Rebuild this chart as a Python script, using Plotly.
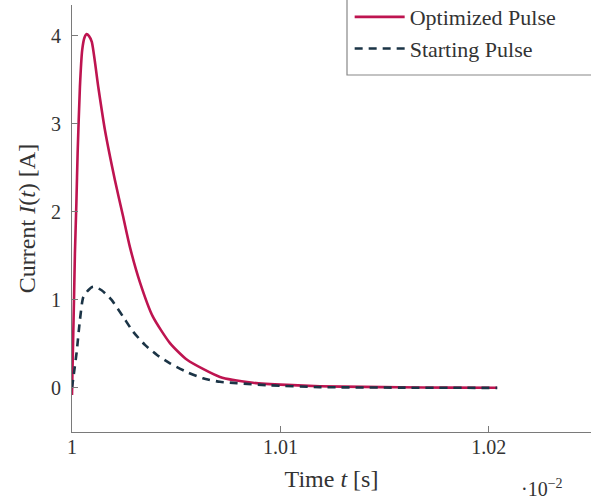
import plotly.graph_objects as go

# Time in units of 1e-2 s (as labelled on the axis)
opt_t = [1.00000, 1.00005, 1.00010, 1.00014, 1.00021, 1.00027, 1.00038, 1.00049,
         1.00060, 1.00070, 1.00081, 1.00095, 1.00126, 1.00158, 1.00206, 1.00245,
         1.00278, 1.00326, 1.00388, 1.00470, 1.00552, 1.00710, 1.00868, 1.01031,
         1.01189, 1.01400, 1.01573, 1.01800, 1.02040]
opt_I = [-0.08, 0.50, 1.05, 1.53, 2.10, 2.67, 3.42, 3.84,
         3.98, 4.02, 4.00, 3.93, 3.42, 2.93, 2.36, 1.95,
         1.60, 1.20, 0.81, 0.51, 0.32, 0.125, 0.06, 0.035,
         0.02, 0.012, 0.008, 0.004, 0.002]

start_t = [1.00000, 1.00010, 1.00022, 1.00038, 1.00054, 1.00078, 1.00101, 1.00142,
           1.00190, 1.00245, 1.00293, 1.00350, 1.00408, 1.00470, 1.00552, 1.00628,
           1.00710, 1.00791, 1.00950, 1.01189, 1.01573, 1.02040]
start_I = [0.0, 0.18, 0.40, 0.77, 1.03, 1.11, 1.15, 1.11,
           1.00, 0.81, 0.64, 0.49, 0.375, 0.28, 0.18, 0.11,
           0.07, 0.055, 0.03, 0.01, 0.004, 0.001]

x_ticks = [1.0, 1.01, 1.02]
x_ticktext = ["1", "1.01", "1.02"]
y_ticks = [0, 1, 2, 3, 4]

RED = "#BE1450"
BLUE = "#1B3446"
AX = "#7a7a7a"
FONT = "Liberation Serif"
TXT = "#333333"

fig = go.Figure()
fig.add_trace(go.Scatter(x=opt_t, y=opt_I, mode="lines", name="Optimized Pulse",
                         line=dict(color=RED, width=2.6, shape="spline", smoothing=0.6)))
fig.add_trace(go.Scatter(x=start_t, y=start_I, mode="lines", name="Starting Pulse",
                         line=dict(color=BLUE, width=2.6, dash="8px,6px", shape="spline", smoothing=0.6)))

fig.update_layout(
    width=591, height=500,
    margin=dict(l=72, r=0, t=5, b=68, autoexpand=False),
    plot_bgcolor="white", paper_bgcolor="white",
    font=dict(family=FONT, size=20, color=TXT),
    showlegend=True,
    legend=dict(x=0.535, y=1.021, xanchor="left", yanchor="top",
                bgcolor="white", borderwidth=0, itemwidth=50,
                font=dict(family=FONT, size=22, color=TXT),
                tracegroupgap=0),
    shapes=[dict(type="rect", xref="paper", yref="paper",
                 x0=(347 - 72) / 519, x1=1.05, y0=1 - (75 - 5) / 427, y1=1.03,
                 line=dict(color="#888888", width=1.2), layer="below")],
    annotations=[dict(text="·10<sup>−2</sup>", xref="paper", yref="paper",
                      x=0.905, y=-0.13, xanchor="center", yanchor="middle",
                      showarrow=False, font=dict(family=FONT, size=20, color=TXT))],
)
fig.update_xaxes(range=[1.0, 1.0249], tickvals=x_ticks, ticktext=x_ticktext,
                 showline=True, linecolor=AX, linewidth=1.2, mirror=False,
                 ticks="inside", ticklen=6, tickcolor=AX, tickwidth=1,
                 ticklabelstandoff=-3, showgrid=False, zeroline=False, automargin=True,
                 title=dict(text="Time <i>t</i> [s]", standoff=13))
fig.update_yaxes(range=[-0.5, 4.35], tickvals=y_ticks,
                 showline=True, linecolor=AX, linewidth=1.2, mirror=False,
                 ticks="inside", ticklen=6, tickcolor=AX, tickwidth=1,
                 ticklabelstandoff=6, showgrid=False, zeroline=False, automargin=True,
                 title=dict(text="Current <i>I</i>(<i>t</i>) [A]", standoff=8))

fig.write_html("out.html", config={"displayModeBar": False},
               post_script="document.body.style.margin='0';")
